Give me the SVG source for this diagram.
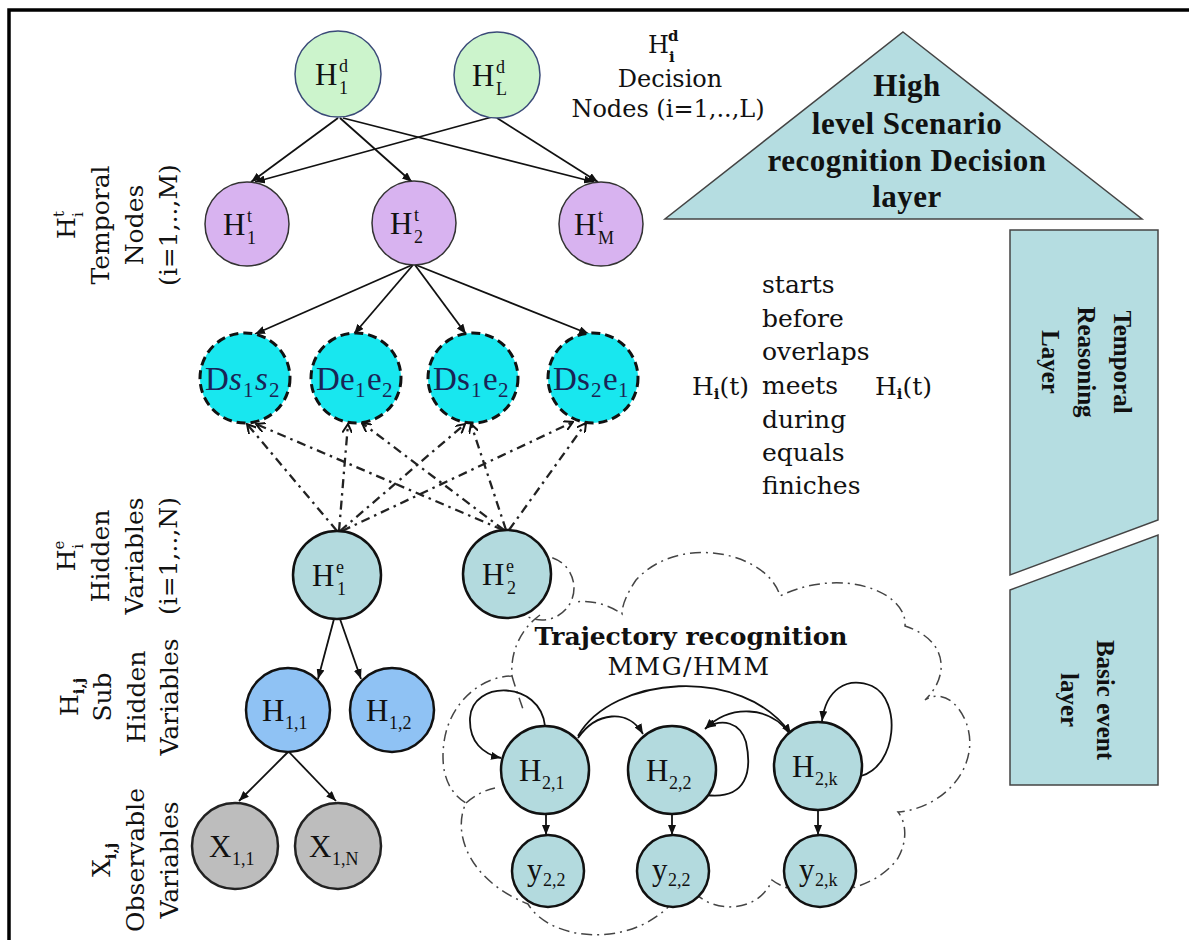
<svg xmlns="http://www.w3.org/2000/svg" width="1189" height="940" viewBox="0 0 1189 940">
<style>
.lab{font-family:"DejaVu Serif",serif;font-size:25px;fill:#111}
.lab24{font-family:"DejaVu Serif",serif;font-size:24px;fill:#111}
.sls{font-size:15px}
.slb{font-size:15px;font-weight:bold}
.nl{font-family:"Liberation Serif","Times New Roman",serif;font-size:31px;fill:#111}
.ss{font-size:18px}
.dsl{font-family:"Liberation Serif","Times New Roman",serif;font-size:33px;fill:#1a2456}
.dss{font-size:21px}
.bt{font-family:"Liberation Serif","Times New Roman",serif;font-weight:bold;fill:#111}
.c-hd{fill:#ccf4cc;stroke:#3a4a78;stroke-width:1.5}
.c-ht{fill:#d8b3f0;stroke:#333;stroke-width:1.5}
.c-ds{fill:#18e7ef;stroke:#111;stroke-width:3;stroke-dasharray:9 5}
.c-he{fill:#b3dade;stroke:#111;stroke-width:2.5}
.c-hs{fill:#8fc2f4;stroke:#111;stroke-width:2.5}
.c-x{fill:#bdbdbd;stroke:#222;stroke-width:2.5}
.layer{fill:#b5dde1;stroke:#444;stroke-width:1.5}
.e{fill:none;stroke:#111;stroke-width:1.8}
.ed{fill:none;stroke:#222;stroke-width:2.3;stroke-dasharray:9 5 2.5 5}
.cloud{fill:none;stroke:#444;stroke-width:1.5;stroke-dasharray:11 5 2 5}
</style>
<defs>
<marker id="ah" viewBox="0 0 10 8" refX="10" refY="4" markerWidth="10" markerHeight="8" markerUnits="userSpaceOnUse" orient="auto"><path d="M0,0 L10,4 L0,8 z" fill="#111"/></marker>
<marker id="ahd" viewBox="0 0 10 10" refX="9" refY="5" markerWidth="10" markerHeight="10" markerUnits="userSpaceOnUse" orient="auto"><path d="M0,0 L9,5 L0,10" fill="none" stroke="#111" stroke-width="2"/></marker>
</defs>
<rect width="1189" height="940" fill="#fff"/>
<path d="M9,940 V10 H1189" fill="none" stroke="#000" stroke-width="3.5"/>

<g id="layers">
<polygon class="layer" points="903,32 1142,219 665,219"/>
<text class="bt" font-size="31" text-anchor="middle" letter-spacing="0.5"><tspan x="907" y="96">High</tspan><tspan x="907" y="134">level Scenario</tspan><tspan x="907" y="171">recognition Decision</tspan><tspan x="907" y="207">layer</tspan></text>
<polygon class="layer" points="1010,230 1158,230 1158,520 1010,575"/>
<text class="bt" font-size="25" text-anchor="middle" transform="translate(1114,362) rotate(90)">Temporal</text>
<text class="bt" font-size="25" text-anchor="middle" transform="translate(1078,362) rotate(90)">Reasoning</text>
<text class="bt" font-size="25" text-anchor="middle" transform="translate(1042,362) rotate(90)">Layer</text>
<polygon class="layer" points="1010,590 1158,535 1158,785 1010,785"/>
<text class="bt" font-size="25" text-anchor="middle" transform="translate(1097,700) rotate(90)">Basic event</text>
<text class="bt" font-size="25" text-anchor="middle" transform="translate(1061,700) rotate(90)">layer</text>
</g>

<g id="labels">
<text class="lab24"><tspan x="648" y="53">H</tspan><tspan class="slb" x="668" y="41">d</tspan><tspan class="slb" x="669" y="62">i</tspan></text>
<text class="lab24" text-anchor="middle" x="670" y="87">Decision</text>
<text class="lab24" text-anchor="middle" x="668" y="117">Nodes (i=1,..,L)</text>

<text class="lab" font-size="26" text-anchor="middle" transform="translate(75,225) rotate(-90)">H<tspan class="sls" dy="-11">t</tspan><tspan class="sls" dx="-6" dy="19">i</tspan></text>
<text class="lab" font-size="26" text-anchor="middle" transform="translate(109,225) rotate(-90)">Temporal</text>
<text class="lab" font-size="26" text-anchor="middle" transform="translate(143,225) rotate(-90)">Nodes</text>
<text class="lab" font-size="26" text-anchor="middle" transform="translate(177,225) rotate(-90)">(i=1,..,M)</text>

<text class="lab" font-size="26" text-anchor="middle" transform="translate(75,556) rotate(-90)">H<tspan class="sls" dy="-11">e</tspan><tspan class="sls" dx="-8" dy="19">i</tspan></text>
<text class="lab" font-size="26" text-anchor="middle" transform="translate(109,556) rotate(-90)">Hidden</text>
<text class="lab" font-size="26" text-anchor="middle" transform="translate(143,556) rotate(-90)">Variables</text>
<text class="lab" font-size="26" text-anchor="middle" transform="translate(177,556) rotate(-90)">(i=1,..,N)</text>

<text class="lab" font-size="26" text-anchor="middle" transform="translate(78,697) rotate(-90)">H<tspan class="slb" dy="6">i,j</tspan></text>
<text class="lab" font-size="26" text-anchor="middle" transform="translate(111,697) rotate(-90)">Sub</text>
<text class="lab" font-size="26" text-anchor="middle" transform="translate(145,697) rotate(-90)">Hidden</text>
<text class="lab" font-size="26" text-anchor="middle" transform="translate(178,697) rotate(-90)">Variables</text>

<text class="lab" font-size="26" text-anchor="middle" transform="translate(110,860) rotate(-90)">X<tspan class="slb" dy="6">i,j</tspan></text>
<text class="lab" font-size="26" text-anchor="middle" transform="translate(144,860) rotate(-90)">Observable</text>
<text class="lab" font-size="26" text-anchor="middle" transform="translate(178,860) rotate(-90)">Variables</text>

<text class="lab"><tspan x="762" y="293">starts</tspan><tspan x="762" y="327">before</tspan><tspan x="762" y="360">overlaps</tspan><tspan x="762" y="394">meets</tspan><tspan x="762" y="428">during</tspan><tspan x="762" y="461">equals</tspan><tspan x="762" y="494">finiches</tspan></text>
<text class="lab" x="692" y="395">H<tspan class="slb" dy="4">i</tspan><tspan dy="-4">(t)</tspan></text>
<text class="lab" x="875" y="395">H<tspan class="slb" dy="4">i</tspan><tspan dy="-4">(t)</tspan></text>

<text class="lab" font-size="18" font-weight="bold" text-anchor="middle" x="691" y="645">Trajectory recognition</text>
<text class="lab" font-size="21" text-anchor="middle" letter-spacing="1.5" x="689" y="675">MMG/HMM</text>
</g>

<g id="cloud">
<path class="cloud" d="M540,615 C522,628 510,650 512,676 C484,676 450,700 444,742 C440,772 448,792 466,803 C452,832 468,880 528,904 C552,945 650,952 687,882 C703,915 758,916 772,880 C800,902 872,896 898,858 C908,840 906,822 898,812 C945,808 982,765 966,722 C957,700 940,690 925,700 C950,676 948,640 905,626 C908,592 842,566 780,596 C768,553 680,532 636,580 C628,592 622,604 622,614 C608,604 590,600 576,602"/>
<circle class="cloud" cx="542" cy="588" r="32"/>
<path class="cloud" d="M512,676 C516,690 520,700 524,712"/>
<path class="cloud" d="M466,803 C475,795 485,790 495,788"/>
</g>

<g id="connectors">
<path class="e" marker-end="url(#ah)" d="M338,118 L251,182"/>
<path class="e" marker-end="url(#ah)" d="M340,118 L412,182"/>
<path class="e" marker-end="url(#ah)" d="M343,118 L594,182"/>
<path class="e" marker-end="url(#ah)" d="M492,117 L255,182"/>
<path class="e" marker-end="url(#ah)" d="M497,118 L598,182"/>
<path class="e" marker-end="url(#ah)" d="M412,265 L255,334"/>
<path class="e" marker-end="url(#ah)" d="M413,265 L354,334"/>
<path class="e" marker-end="url(#ah)" d="M415,265 L466,334"/>
<path class="e" marker-end="url(#ah)" d="M416,265 L589,334"/>
<path class="ed" marker-end="url(#ahd)" d="M337,531 L247,424"/>
<path class="ed" marker-end="url(#ahd)" d="M339,531 L348,424"/>
<path class="ed" marker-end="url(#ahd)" d="M340,531 L465,424"/>
<path class="ed" marker-end="url(#ahd)" d="M342,531 L573,422"/>
<path class="ed" marker-end="url(#ahd)" d="M503,530 L256,424"/>
<path class="ed" marker-end="url(#ahd)" d="M504,530 L362,423"/>
<path class="ed" marker-end="url(#ahd)" d="M506,530 L471,424"/>
<path class="ed" marker-end="url(#ahd)" d="M509,530 L586,423"/>
<path class="e" marker-end="url(#ah)" d="M334,619 L318,679"/>
<path class="e" marker-end="url(#ah)" d="M340,619 L361,679"/>
<path class="e" marker-end="url(#ah)" d="M288,752 L239,801"/>
<path class="e" marker-end="url(#ah)" d="M289,752 L336,801"/>
<path class="e" marker-end="url(#ah)" d="M546,814 L546,835"/>
<path class="e" marker-end="url(#ah)" d="M672,814 L672,835"/>
<path class="e" marker-end="url(#ah)" d="M818,809 L818,835"/>
<path class="e" marker-end="url(#ah)" d="M545,726 C540,680 472,680 470,718 C469,742 483,754 501,758"/>
<path class="e" marker-end="url(#ah)" d="M578,738 C596,712 628,708 643,734"/>
<path class="e" marker-end="url(#ah)" d="M578,736 C612,676 742,664 791,734"/>
<path class="e" marker-end="url(#ah)" d="M789,733 C770,706 730,704 705,729"/>
<path class="e" marker-end="url(#ah)" d="M706,795 C748,800 752,770 746,742 C740,722 722,718 706,728"/>
<path class="e" marker-end="url(#ah)" d="M861,776 C897,766 902,700 872,686 C846,676 826,690 822,721"/>
</g>

<g id="n-hd1"><circle class="c-hd" cx="338" cy="74" r="43"/><text class="nl"><tspan x="315" y="85">H</tspan><tspan class="ss" x="339" y="72">d</tspan><tspan class="ss" x="339" y="94">1</tspan></text></g>
<g id="n-hdl"><circle class="c-hd" cx="497" cy="75" r="43"/><text class="nl"><tspan x="472" y="86">H</tspan><tspan class="ss" x="496" y="73">d</tspan><tspan class="ss" x="496" y="95">L</tspan></text></g>
<g id="n-ht1"><circle class="c-ht" cx="247" cy="224" r="42"/><text class="nl"><tspan x="223" y="235">H</tspan><tspan class="ss" x="247" y="222">t</tspan><tspan class="ss" x="247" y="244">1</tspan></text></g>
<g id="n-ht2"><circle class="c-ht" cx="414" cy="223" r="42"/><text class="nl"><tspan x="390" y="234">H</tspan><tspan class="ss" x="414" y="221">t</tspan><tspan class="ss" x="414" y="243">2</tspan></text></g>
<g id="n-htm"><circle class="c-ht" cx="601" cy="224" r="42"/><text class="nl"><tspan x="574" y="235">H</tspan><tspan class="ss" x="598" y="222">t</tspan><tspan class="ss" x="598" y="244">M</tspan></text></g>

<g id="n-ds1s2"><circle class="c-ds" cx="245" cy="378" r="45"/><text class="dsl"><tspan x="205" y="390">D</tspan><tspan x="229" y="390" font-style="italic">s</tspan><tspan class="dss" x="243" y="397">1</tspan><tspan x="255" y="390" font-style="italic">s</tspan><tspan class="dss" x="269" y="397">2</tspan></text></g>
<g id="n-de1e2"><circle class="c-ds" cx="356" cy="378" r="45"/><text class="dsl"><tspan x="316" y="390">D</tspan><tspan x="340" y="390">e</tspan><tspan class="dss" x="355" y="397">1</tspan><tspan x="367" y="390">e</tspan><tspan class="dss" x="382" y="397">2</tspan></text></g>
<g id="n-ds1e2"><circle class="c-ds" cx="473" cy="378" r="45"/><text class="dsl"><tspan x="433" y="390">D</tspan><tspan x="457" y="390">s</tspan><tspan class="dss" x="471" y="397">1</tspan><tspan x="483" y="390">e</tspan><tspan class="dss" x="498" y="397">2</tspan></text></g>
<g id="n-ds2e1"><circle class="c-ds" cx="593" cy="378" r="45"/><text class="dsl"><tspan x="553" y="390">D</tspan><tspan x="577" y="390">s</tspan><tspan class="dss" x="591" y="397">2</tspan><tspan x="603" y="390">e</tspan><tspan class="dss" x="618" y="397">1</tspan></text></g>

<g id="n-he1"><circle class="c-he" cx="337" cy="575" r="44"/><text class="nl"><tspan x="312" y="586">H</tspan><tspan class="ss" x="336" y="573">e</tspan><tspan class="ss" x="337" y="595">1</tspan></text></g>
<g id="n-he2"><circle class="c-he" cx="507" cy="574" r="44"/><text class="nl"><tspan x="482" y="585">H</tspan><tspan class="ss" x="506" y="572">e</tspan><tspan class="ss" x="507" y="594">2</tspan></text></g>

<g id="n-h11"><circle class="c-hs" cx="288" cy="710" r="42"/><text class="nl"><tspan x="262" y="721">H</tspan><tspan class="ss" x="285" y="729">1,1</tspan></text></g>
<g id="n-h12"><circle class="c-hs" cx="392" cy="710" r="42"/><text class="nl"><tspan x="366" y="721">H</tspan><tspan class="ss" x="389" y="729">1,2</tspan></text></g>
<g id="n-x11"><circle class="c-x" cx="235" cy="846" r="43"/><text class="nl"><tspan x="209" y="857">X</tspan><tspan class="ss" x="232" y="865">1,1</tspan></text></g>
<g id="n-x1n"><circle class="c-x" cx="338" cy="846" r="43"/><text class="nl"><tspan x="309" y="857">X</tspan><tspan class="ss" x="332" y="865">1,N</tspan></text></g>

<g id="n-h21"><circle class="c-he" cx="545" cy="770" r="44"/><text class="nl"><tspan x="519" y="781">H</tspan><tspan class="ss" x="542" y="789">2,1</tspan></text></g>
<g id="n-h22"><circle class="c-he" cx="672" cy="770" r="44"/><text class="nl"><tspan x="646" y="781">H</tspan><tspan class="ss" x="669" y="789">2,2</tspan></text></g>
<g id="n-h2k"><circle class="c-he" cx="818" cy="766" r="44"/><text class="nl"><tspan x="792" y="777">H</tspan><tspan class="ss" x="815" y="785">2,k</tspan></text></g>
<g id="n-y1"><circle class="c-he" cx="548" cy="871" r="36"/><text class="nl"><tspan x="527" y="880">y</tspan><tspan class="ss" x="543" y="886">2,2</tspan></text></g>
<g id="n-y2"><circle class="c-he" cx="673" cy="871" r="36"/><text class="nl"><tspan x="652" y="880">y</tspan><tspan class="ss" x="668" y="886">2,2</tspan></text></g>
<g id="n-yk"><circle class="c-he" cx="820" cy="871" r="36"/><text class="nl"><tspan x="799" y="880">y</tspan><tspan class="ss" x="815" y="886">2,k</tspan></text></g>
</svg>
